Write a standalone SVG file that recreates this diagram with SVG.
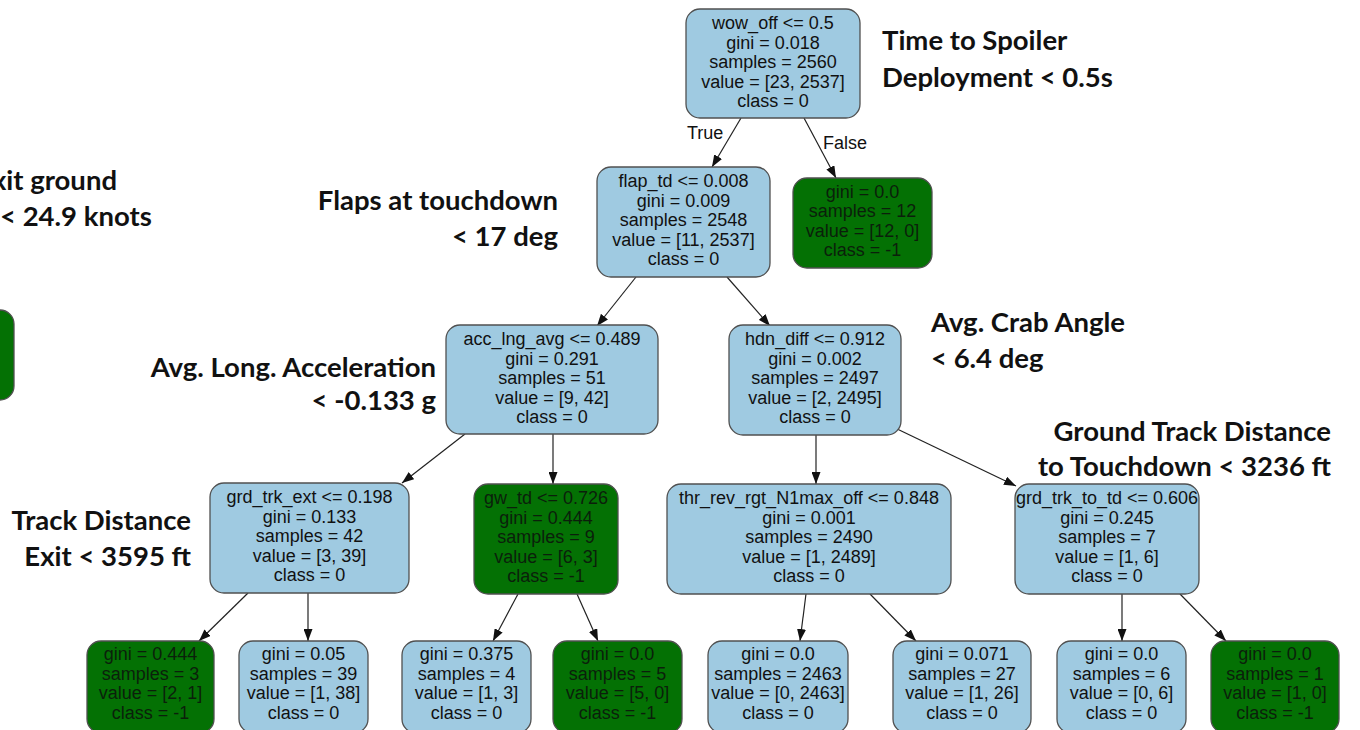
<svg xmlns="http://www.w3.org/2000/svg" width="1360" height="730" viewBox="0 0 1360 730">
  <style>
    .blue { fill: #9fcae1; stroke: #505050; stroke-width: 1.3; }
    .green { fill: #047104; stroke: #505050; stroke-width: 1.3; }
    .nt { font-family: "Liberation Sans", Arial, sans-serif; font-size: 18px; fill: #111; text-anchor: middle; }
    .gt { font-family: "Liberation Sans", Arial, sans-serif; font-size: 18px; fill: #0b1f0b; text-anchor: middle; }
    .lbl { font-family: "Liberation Sans", Arial, sans-serif; font-size: 18px; fill: #111; }
    .note { font-family: Lato, "Open Sans", sans-serif; font-weight: 700; font-size: 27.5px; fill: #111; }
    .edge { stroke: #222; stroke-width: 1.2; fill: none; marker-end: url(#arrow); }
  </style>
  <defs>
    <marker id="arrow" markerUnits="userSpaceOnUse" markerWidth="12" markerHeight="9" refX="12" refY="4.5" orient="auto">
      <path d="M0,0 L12,4.5 L0,9 z" fill="#111"/>
    </marker>
  </defs>
  <rect width="1360" height="730" fill="#ffffff"/>

  <!-- connectors -->
  <g id="edges">
    <line class="edge" x1="741" y1="118" x2="712" y2="167"/>
    <line class="edge" x1="804" y1="118" x2="836" y2="178"/>
    <line class="edge" x1="636" y1="277" x2="597" y2="326"/>
    <line class="edge" x1="727" y1="277" x2="770" y2="326"/>
    <line class="edge" x1="465" y1="434" x2="402" y2="483"/>
    <line class="edge" x1="553" y1="434" x2="553" y2="484"/>
    <line class="edge" x1="816" y1="435" x2="816" y2="484"/>
    <line class="edge" x1="893" y1="427" x2="1016" y2="486"/>
    <line class="edge" x1="248" y1="593" x2="199" y2="641"/>
    <line class="edge" x1="308" y1="593" x2="308" y2="641"/>
    <line class="edge" x1="518" y1="594" x2="493" y2="641"/>
    <line class="edge" x1="577" y1="594" x2="598" y2="641"/>
    <line class="edge" x1="806" y1="594" x2="800" y2="641"/>
    <line class="edge" x1="870" y1="594" x2="916" y2="641"/>
    <line class="edge" x1="1122" y1="594" x2="1122" y2="641"/>
    <line class="edge" x1="1180" y1="594" x2="1226" y2="641"/>
    <text class="lbl" x="687" y="139">True</text>
    <text class="lbl" x="823" y="149">False</text>
  </g>

  <!-- root -->
  <g id="n0">
    <rect class="blue" x="686" y="9" width="174" height="109" rx="14"/>
    <text class="nt" x="773" y="29">wow_off &lt;= 0.5</text>
    <text class="nt" x="773" y="49">gini = 0.018</text>
    <text class="nt" x="773" y="68">samples = 2560</text>
    <text class="nt" x="773" y="88">value = [23, 2537]</text>
    <text class="nt" x="773" y="107">class = 0</text>
  </g>

  <g id="n1">
    <rect class="blue" x="597" y="167" width="173" height="110" rx="14"/>
    <text class="nt" x="683.5" y="187">flap_td &lt;= 0.008</text>
    <text class="nt" x="683.5" y="207">gini = 0.009</text>
    <text class="nt" x="683.5" y="226">samples = 2548</text>
    <text class="nt" x="683.5" y="246">value = [11, 2537]</text>
    <text class="nt" x="683.5" y="265">class = 0</text>
  </g>

  <g id="n2">
    <rect class="green" x="793" y="178" width="139" height="90" rx="14"/>
    <text class="gt" x="862.5" y="198">gini = 0.0</text>
    <text class="gt" x="862.5" y="217">samples = 12</text>
    <text class="gt" x="862.5" y="237">value = [12, 0]</text>
    <text class="gt" x="862.5" y="256">class = -1</text>
  </g>

  <g id="n3">
    <rect class="blue" x="446" y="325" width="212" height="109" rx="14"/>
    <text class="nt" x="552" y="345">acc_lng_avg &lt;= 0.489</text>
    <text class="nt" x="552" y="365">gini = 0.291</text>
    <text class="nt" x="552" y="384">samples = 51</text>
    <text class="nt" x="552" y="404">value = [9, 42]</text>
    <text class="nt" x="552" y="423">class = 0</text>
  </g>

  <g id="n4">
    <rect class="blue" x="729" y="325" width="172" height="110" rx="14"/>
    <text class="nt" x="815" y="345">hdn_diff &lt;= 0.912</text>
    <text class="nt" x="815" y="365">gini = 0.002</text>
    <text class="nt" x="815" y="384">samples = 2497</text>
    <text class="nt" x="815" y="404">value = [2, 2495]</text>
    <text class="nt" x="815" y="423">class = 0</text>
  </g>

  <g id="n5">
    <rect class="blue" x="210" y="483" width="199" height="110" rx="14"/>
    <text class="nt" x="309.5" y="503">grd_trk_ext &lt;= 0.198</text>
    <text class="nt" x="309.5" y="523">gini = 0.133</text>
    <text class="nt" x="309.5" y="542">samples = 42</text>
    <text class="nt" x="309.5" y="562">value = [3, 39]</text>
    <text class="nt" x="309.5" y="581">class = 0</text>
  </g>

  <g id="n6">
    <rect class="green" x="474" y="484" width="144" height="110" rx="14"/>
    <text class="gt" x="546" y="504">gw_td &lt;= 0.726</text>
    <text class="gt" x="546" y="524">gini = 0.444</text>
    <text class="gt" x="546" y="543">samples = 9</text>
    <text class="gt" x="546" y="563">value = [6, 3]</text>
    <text class="gt" x="546" y="582">class = -1</text>
  </g>

  <g id="n7">
    <rect class="blue" x="667" y="484" width="284" height="110" rx="14"/>
    <text class="nt" x="809" y="504">thr_rev_rgt_N1max_off &lt;= 0.848</text>
    <text class="nt" x="809" y="524">gini = 0.001</text>
    <text class="nt" x="809" y="543">samples = 2490</text>
    <text class="nt" x="809" y="563">value = [1, 2489]</text>
    <text class="nt" x="809" y="582">class = 0</text>
  </g>

  <g id="n8">
    <rect class="blue" x="1015" y="484" width="184" height="110" rx="14"/>
    <text class="nt" x="1107" y="504">grd_trk_to_td &lt;= 0.606</text>
    <text class="nt" x="1107" y="524">gini = 0.245</text>
    <text class="nt" x="1107" y="543">samples = 7</text>
    <text class="nt" x="1107" y="563">value = [1, 6]</text>
    <text class="nt" x="1107" y="582">class = 0</text>
  </g>

  <!-- leaves -->
  <g id="n9">
    <rect class="green" x="87" y="641" width="127" height="92" rx="14"/>
    <text class="gt" x="150.5" y="660">gini = 0.444</text>
    <text class="gt" x="150.5" y="680">samples = 3</text>
    <text class="gt" x="150.5" y="699">value = [2, 1]</text>
    <text class="gt" x="150.5" y="719">class = -1</text>
  </g>
  <g id="n10">
    <rect class="blue" x="239" y="641" width="129" height="92" rx="14"/>
    <text class="nt" x="303.5" y="660">gini = 0.05</text>
    <text class="nt" x="303.5" y="680">samples = 39</text>
    <text class="nt" x="303.5" y="699">value = [1, 38]</text>
    <text class="nt" x="303.5" y="719">class = 0</text>
  </g>
  <g id="n11">
    <rect class="blue" x="402" y="641" width="129" height="92" rx="14"/>
    <text class="nt" x="466.5" y="660">gini = 0.375</text>
    <text class="nt" x="466.5" y="680">samples = 4</text>
    <text class="nt" x="466.5" y="699">value = [1, 3]</text>
    <text class="nt" x="466.5" y="719">class = 0</text>
  </g>
  <g id="n12">
    <rect class="green" x="553" y="641" width="129" height="92" rx="14"/>
    <text class="gt" x="617.5" y="660">gini = 0.0</text>
    <text class="gt" x="617.5" y="680">samples = 5</text>
    <text class="gt" x="617.5" y="699">value = [5, 0]</text>
    <text class="gt" x="617.5" y="719">class = -1</text>
  </g>
  <g id="n13">
    <rect class="blue" x="708" y="641" width="140" height="92" rx="14"/>
    <text class="nt" x="778" y="660">gini = 0.0</text>
    <text class="nt" x="778" y="680">samples = 2463</text>
    <text class="nt" x="778" y="699">value = [0, 2463]</text>
    <text class="nt" x="778" y="719">class = 0</text>
  </g>
  <g id="n14">
    <rect class="blue" x="893" y="641" width="138" height="92" rx="14"/>
    <text class="nt" x="962" y="660">gini = 0.071</text>
    <text class="nt" x="962" y="680">samples = 27</text>
    <text class="nt" x="962" y="699">value = [1, 26]</text>
    <text class="nt" x="962" y="719">class = 0</text>
  </g>
  <g id="n15">
    <rect class="blue" x="1057" y="641" width="129" height="92" rx="14"/>
    <text class="nt" x="1121.5" y="660">gini = 0.0</text>
    <text class="nt" x="1121.5" y="680">samples = 6</text>
    <text class="nt" x="1121.5" y="699">value = [0, 6]</text>
    <text class="nt" x="1121.5" y="719">class = 0</text>
  </g>
  <g id="n16">
    <rect class="green" x="1211" y="641" width="128" height="92" rx="14"/>
    <text class="gt" x="1275" y="660">gini = 0.0</text>
    <text class="gt" x="1275" y="680">samples = 1</text>
    <text class="gt" x="1275" y="699">value = [1, 0]</text>
    <text class="gt" x="1275" y="719">class = -1</text>
  </g>

  <!-- leaf partly off the left edge -->
  <g id="n17">
    <rect class="green" x="-40" y="310" width="54" height="90" rx="14"/>
  </g>

  <!-- split annotations -->
  <g id="notes">
    <text class="note" x="882" y="50">Time to Spoiler</text>
    <text class="note" x="882" y="87">Deployment &lt; 0.5s</text>
    <text class="note" x="117" y="190" text-anchor="end">Exit ground</text>
    <text class="note" x="0" y="226">&lt; 24.9 knots</text>
    <text class="note" x="558" y="210" text-anchor="end">Flaps at touchdown</text>
    <text class="note" x="558" y="246" text-anchor="end">&lt; 17 deg</text>
    <text class="note" x="436" y="377" text-anchor="end">Avg. Long. Acceleration</text>
    <text class="note" x="436" y="410" text-anchor="end">&lt; -0.133 g</text>
    <text class="note" x="931" y="332">Avg. Crab Angle</text>
    <text class="note" x="931" y="368">&lt; 6.4 deg</text>
    <text class="note" x="1331" y="441" text-anchor="end">Ground Track Distance</text>
    <text class="note" x="1331" y="476" text-anchor="end">to Touchdown &lt; 3236 ft</text>
    <text class="note" x="191" y="530" text-anchor="end">Track Distance</text>
    <text class="note" x="191" y="566" text-anchor="end">Exit &lt; 3595 ft</text>
  </g>
</svg>
